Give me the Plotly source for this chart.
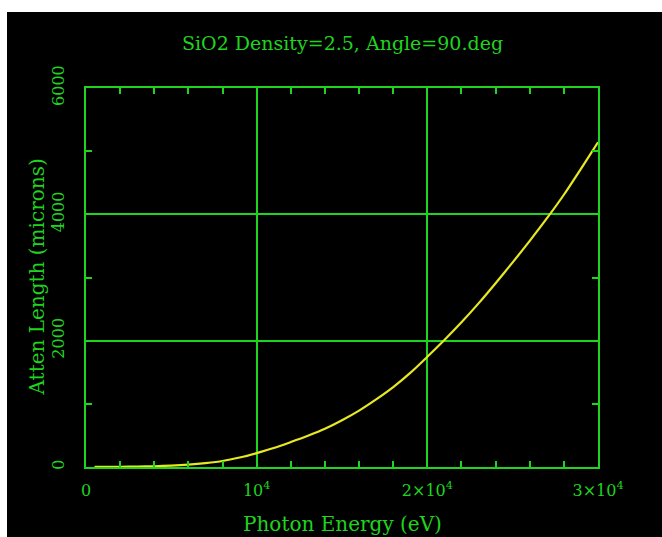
import plotly.graph_objects as go

# Data (photon energy in eV, attenuation length in microns)
energy_ev = [500, 1000, 2000, 3000, 4000, 5000, 6000, 7000, 8000, 9000, 10000,
             11000, 12000, 13000, 14000, 15000, 16000, 17000, 18000, 19000, 20000,
             21000, 22000, 23000, 24000, 25000, 26000, 27000, 28000, 29000, 30000]
atten_um = [1, 2, 4, 6, 12, 22, 38, 62, 95, 150, 220,
            300, 395, 495, 605, 740, 893, 1070, 1265, 1490, 1745,
            2010, 2290, 2590, 2910, 3240, 3580, 3935, 4310, 4720, 5140]

x_tickvals = [0, 10000, 20000, 30000]
x_ticktext = ["0", "10<sup>4</sup>", "2×10<sup>4</sup>", "3×10<sup>4</sup>"]
y_tickvals = [0, 2000, 4000, 6000]
y_ticktext = ["0", "2000", "4000", "6000"]

title_text = "SiO2 Density=2.5, Angle=90.deg"
x_title = "Photon Energy (eV)"
y_title = "Atten Length (microns)"

GREEN = "#1fd41f"
YELLOW = "#e8e820"
FONT = "DejaVu Serif"

W, H = 662, 537
L, T = 86, 88
R = W - 598
B = H - 467
pw, ph = W - L - R, H - T - B

fig = go.Figure()
fig.add_trace(go.Scatter(x=energy_ev, y=atten_um, mode="lines",
                         line=dict(color=YELLOW, width=2.2, shape="spline", smoothing=0.8),
                         showlegend=False, hoverinfo="skip"))

axis_common = dict(
    showline=True, linecolor=GREEN, linewidth=2, mirror="allticks",
    showgrid=True, gridcolor=GREEN, gridwidth=2,
    ticks="inside", ticklen=0, tickcolor=GREEN, tickwidth=1.5,
    zeroline=False,
    tickfont=dict(family=FONT, size=16, color=GREEN),
)

fig.update_xaxes(range=[0, 30000], tickmode="array", tickvals=x_tickvals,
                 ticktext=x_ticktext, ticklabelstandoff=8,
                 minor=dict(dtick=2000, tick0=0, ticks="inside", ticklen=6,
                            tickcolor=GREEN, tickwidth=1.5, showgrid=False),
                 **axis_common)
fig.update_yaxes(range=[0, 6000], tickmode="array", tickvals=y_tickvals,
                 ticktext=y_ticktext, tickangle=-90, ticklabelstandoff=14,
                 minor=dict(dtick=1000, tick0=0, ticks="inside", ticklen=6,
                            tickcolor=GREEN, tickwidth=1.5, showgrid=False),
                 **axis_common)

def px_x(px):  # page px -> paper
    return (px - L) / pw

def px_y(py):
    return (H - B - py) / ph

annotations = [
    dict(text=title_text, xref="paper", yref="paper", x=0.5, y=px_y(43),
         xanchor="center", yanchor="middle", showarrow=False,
         font=dict(family=FONT, size=19, color=GREEN)),
    dict(text=x_title, xref="paper", yref="paper", x=0.5, y=px_y(524),
         xanchor="center", yanchor="middle", showarrow=False,
         font=dict(family=FONT, size=20, color=GREEN)),
    dict(text=y_title, xref="paper", yref="paper", x=px_x(36), y=0.5,
         xanchor="center", yanchor="middle", showarrow=False, textangle=-90,
         font=dict(family=FONT, size=20, color=GREEN)),
]

# white strips along the top and left edges, as in the reference screenshot
shapes = [
    dict(type="rect", xref="paper", yref="paper", x0=px_x(-2), x1=px_x(664),
         y0=px_y(12), y1=px_y(-2), fillcolor="white", line=dict(width=0), layer="above"),
    dict(type="rect", xref="paper", yref="paper", x0=px_x(-2), x1=px_x(7),
         y0=px_y(539), y1=px_y(-2), fillcolor="white", line=dict(width=0), layer="above"),
]

fig.update_layout(
    width=W, height=H,
    margin=dict(l=L, r=R, t=T, b=B, pad=0),
    paper_bgcolor="black", plot_bgcolor="black",
    annotations=annotations, shapes=shapes,
    showlegend=False,
)

fig.write_html("out.html", config={"displayModeBar": False},
               post_script="document.body.style.margin='0';document.body.style.overflow='hidden';")
